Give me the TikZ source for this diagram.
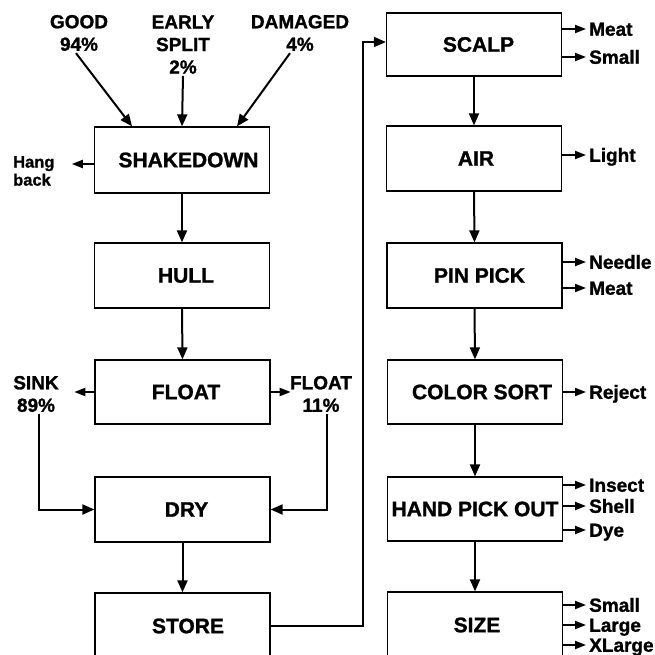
\documentclass[tikz,border=0pt]{standalone}
\usepackage{fontspec}
\setmainfont{Liberation Sans}[BoldFeatures={FakeBold=1.2}]
\usetikzlibrary{arrows.meta}
\begin{document}
\begin{tikzpicture}[x=1pt,y=-1pt,
 stage/.style={draw, line width=1.3pt, minimum width=175pt, minimum height=65pt, inner sep=0pt, font=\fontsize{21}{24}\selectfont\bfseries},
 tshift/.style={execute at begin node={\hspace{#1}}},
 lbl/.style={font=\fontsize{19}{22.5}\selectfont\bfseries, align=center, inner sep=2pt},
 outlbl/.style={font=\fontsize{19}{22}\selectfont\bfseries, anchor=west, inner xsep=3pt, inner ysep=0pt, text height=13.5pt, text depth=0pt},
 flow/.style={line width=2pt, -{Triangle[length=12pt,width=10pt]}},
 sidearrow/.style={line width=2pt, -{Triangle[length=11pt,width=8pt]}},
]
\useasboundingbox (0,0) rectangle (654,655);
\clip (0,0) rectangle (654,655);

% left column
\node[stage, minimum height=66pt, tshift=13pt] (shake) at (182,160) {SHAKEDOWN};
\node[stage, tshift=8pt] (hull) at (182,275.5) {HULL};
\node[stage, minimum height=64pt, tshift=7pt] (float) at (182.5,392) {FLOAT};
\node[stage, tshift=8pt] (dry) at (182.5,509.5) {DRY};
\node[stage, minimum height=66pt, tshift=11pt] (store) at (182.5,626) {STORE};

% right column
\node[stage, minimum height=63pt, tshift=9pt] (scalp) at (474,44.5) {SCALP};
\node[stage, tshift=4pt] (air) at (474,158.5) {AIR};
\node[stage, tshift=10pt] (pin) at (474.5,275.5) {PIN PICK};
\node[stage, minimum height=64pt, tshift=14pt] (color) at (475,392) {COLOR SORT};
\node[stage, minimum height=64pt] (hand) at (475,509) {HAND PICK OUT};
\node[stage, minimum height=66pt, tshift=4pt] (size) at (475,625) {SIZE};

% inputs
\node[lbl] (good) at (79,33) {GOOD\\94\%};
\node[lbl] (early) at (183,44.6) {EARLY\\SPLIT\\2\%};
\node[lbl] (dam) at (300,33) {DAMAGED\\4\%};
\draw[flow] ([xshift=-3pt]good.south) -- ([xshift=-50pt]shake.north);
\draw[flow] (early.south) -- (shake.north);
\draw[flow] ([xshift=-10pt]dam.south) -- ([xshift=55pt]shake.north);

% hang back
\node[font=\fontsize{16.5}{18}\selectfont\bfseries, align=left, anchor=west, inner sep=0pt] (hang) at (13,171) {Hang\\back};
\draw[sidearrow] ([yshift=-4pt]shake.west) -- ++(-22,0);

% float split
\node[lbl] (sink) at (36,394) {SINK\\89\%};
\node[lbl] (fl) at (321,394) {FLOAT\\11\%};
\draw[sidearrow] (float.west) -- ++(-20,0);
\draw[sidearrow] (float.east) -- ++(20,0);
\draw[flow] ([xshift=3pt]sink.south) |- (dry.west);
\draw[flow] ([xshift=6pt]fl.south) |- (dry.east);

% main flow left
\draw[flow] (shake.south) -- (hull.north);
\draw[flow] (hull.south) -- (float.north);
\draw[flow] (dry.south) -- (store.north);

% store to scalp
\coordinate (bus) at (363,42);
\draw[flow] (store.east) -| (bus) -- (bus -| scalp.west);

% main flow right
\draw[flow] (scalp.south) -- (air.north);
\draw[flow] (air.south) -- (pin.north);
\draw[flow] (pin.south) -- (color.north);
\draw[flow] (color.south) -- (hand.north);
\draw[flow] (hand.south) -- (size.north);

% outputs
\node[outlbl] (o1) at (586,29) {Meat};
\node[outlbl] (o2) at (586,57) {Small};
\node[outlbl] (o3) at (586,155) {Light};
\node[outlbl] (o4) at (586,262) {Needle};
\node[outlbl] (o5) at (586,288) {Meat};
\node[outlbl] (o6) at (586,392) {Reject};
\node[outlbl] (o7) at (586,485) {Insect};
\node[outlbl] (o8) at (586,506) {Shell};
\node[outlbl] (o9) at (586,530) {Dye};
\node[outlbl] (o10) at (586,605) {Small};
\node[outlbl] (o11) at (586,625) {Large};
\node[outlbl] (o12) at (586,645) {XLarge};
\draw[sidearrow] (scalp.east |- o1.west) -- (o1.west);
\draw[sidearrow] (scalp.east |- o2.west) -- (o2.west);
\draw[sidearrow] (air.east |- o3.west) -- (o3.west);
\draw[sidearrow] (pin.east |- o4.west) -- (o4.west);
\draw[sidearrow] (pin.east |- o5.west) -- (o5.west);
\draw[sidearrow] (color.east |- o6.west) -- (o6.west);
\draw[sidearrow] (hand.east |- o7.west) -- (o7.west);
\draw[sidearrow] (hand.east |- o8.west) -- (o8.west);
\draw[sidearrow] (hand.east |- o9.west) -- (o9.west);
\draw[sidearrow] (size.east |- o10.west) -- (o10.west);
\draw[sidearrow] (size.east |- o11.west) -- (o11.west);
\draw[sidearrow] (size.east |- o12.west) -- (o12.west);
\end{tikzpicture}
\end{document}
